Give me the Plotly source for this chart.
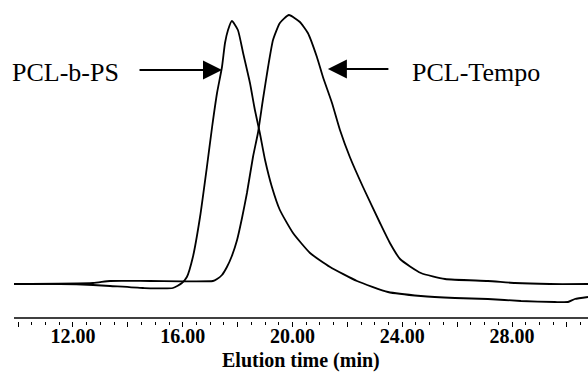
import plotly.graph_objects as go

# Elution time (min) and detector signal (arbitrary units)
ps_time = [9.85, 11.53, 12.73, 13.35, 14.55, 15.64, 15.97, 16.15, 16.37, 16.63, 16.88, 17.07,
           17.25, 17.43, 17.54, 17.65, 17.79, 18.01, 18.20, 18.45, 18.63, 18.81, 19.00, 19.25,
           19.54, 20.02, 20.64, 21.37, 22.35, 23.48, 24.68, 25.92, 27.12, 28.33, 29.56, 30.04,
           30.29, 30.77]
ps_signal = [37, 37, 36, 35, 33, 33, 38, 44, 64, 104, 154, 194,
             228, 254, 278, 291, 300, 291, 268, 238, 211, 188, 161, 134,
             111, 88, 68, 54, 40, 29, 25, 23, 22, 20, 19, 19,
             22, 24]

tempo_time = [9.85, 12.73, 13.35, 14.81, 17.10, 17.25, 17.43, 17.61, 17.79, 17.98, 18.16, 18.34,
              18.56, 18.74, 18.92, 19.11, 19.29, 19.54, 19.87, 20.27, 20.56, 20.89, 21.11, 21.44,
              21.73, 22.09, 22.57, 23.19, 23.55, 23.92, 24.68, 25.56, 27.12, 28.11, 29.38, 30.77]
tempo_signal = [37, 38, 40, 40, 40, 42, 46, 54, 65, 81, 103, 128,
                164, 188, 221, 254, 281, 298, 306, 299, 288, 264, 244, 218,
                191, 164, 134, 98, 78, 62, 48, 42, 40, 38, 37, 37]

major_ticks = [10, 12, 14, 16, 18, 20, 22, 24, 26, 28, 30]
tick_labels = ["", "12.00", "", "16.00", "", "20.00", "", "24.00", "", "28.00", ""]

FONT = "Liberation Serif, Times New Roman, serif"

fig = go.Figure()
fig.add_trace(go.Scatter(x=tempo_time, y=tempo_signal, mode="lines",
                         line=dict(color="black", width=1.8, shape="spline", smoothing=0.5),
                         name="PCL-Tempo"))
fig.add_trace(go.Scatter(x=ps_time, y=ps_signal, mode="lines",
                         line=dict(color="black", width=1.8, shape="spline", smoothing=0.5),
                         name="PCL-b-PS"))

# axis baseline drawn slightly above the ticks
fig.add_shape(type="line", xref="paper", yref="y", x0=0, x1=1, y0=3, y1=3,
              line=dict(color="black", width=1.6))

fig.add_annotation(x=17.43, y=251, ax=14.37, ay=251, axref="x", ayref="y",
                   xref="x", yref="y", text="", showarrow=True,
                   arrowhead=2, arrowsize=1.9, arrowwidth=2, arrowcolor="black")
fig.add_annotation(x=21.29, y=252, ax=23.55, ay=252, axref="x", ayref="y",
                   xref="x", yref="y", text="", showarrow=True,
                   arrowhead=2, arrowsize=1.9, arrowwidth=2, arrowcolor="black")
fig.add_annotation(x=11.74, y=249, xref="x", yref="y", text="PCL-b-PS", showarrow=False,
                   xanchor="center", yanchor="middle",
                   font=dict(family=FONT, size=26, color="black"))
fig.add_annotation(x=26.69, y=249, xref="x", yref="y", text="PCL-Tempo", showarrow=False,
                   xanchor="center", yanchor="middle",
                   font=dict(family=FONT, size=26, color="black"))

# axis title placed at the bottom of the page
fig.add_annotation(x=0.5, y=0, xref="paper", yref="paper", yshift=-52,
                   text="<b>Elution time (min)</b>", showarrow=False,
                   xanchor="center", yanchor="bottom", borderpad=0,
                   font=dict(family=FONT, size=20, color="black"))

fig.update_layout(
    width=588, height=372,
    margin=dict(l=14, r=0, t=0, b=51),
    paper_bgcolor="white", plot_bgcolor="white",
    showlegend=False,
    xaxis=dict(range=[9.85, 30.77], showline=False, showgrid=False, zeroline=False,
               tickmode="array", tickvals=major_ticks, ticktext=tick_labels,
               ticks="outside", ticklen=5, tickwidth=1, tickcolor="black",
               ticklabelstandoff=-8,
               tickfont=dict(family=FONT, size=20, color="black", weight="bold"),
               minor=dict(dtick=0.5, tick0=10, ticks="outside", ticklen=3,
                          tickwidth=1, tickcolor="black")),
    yaxis=dict(range=[0, 321], visible=False),
)

fig.write_html("out.html")
